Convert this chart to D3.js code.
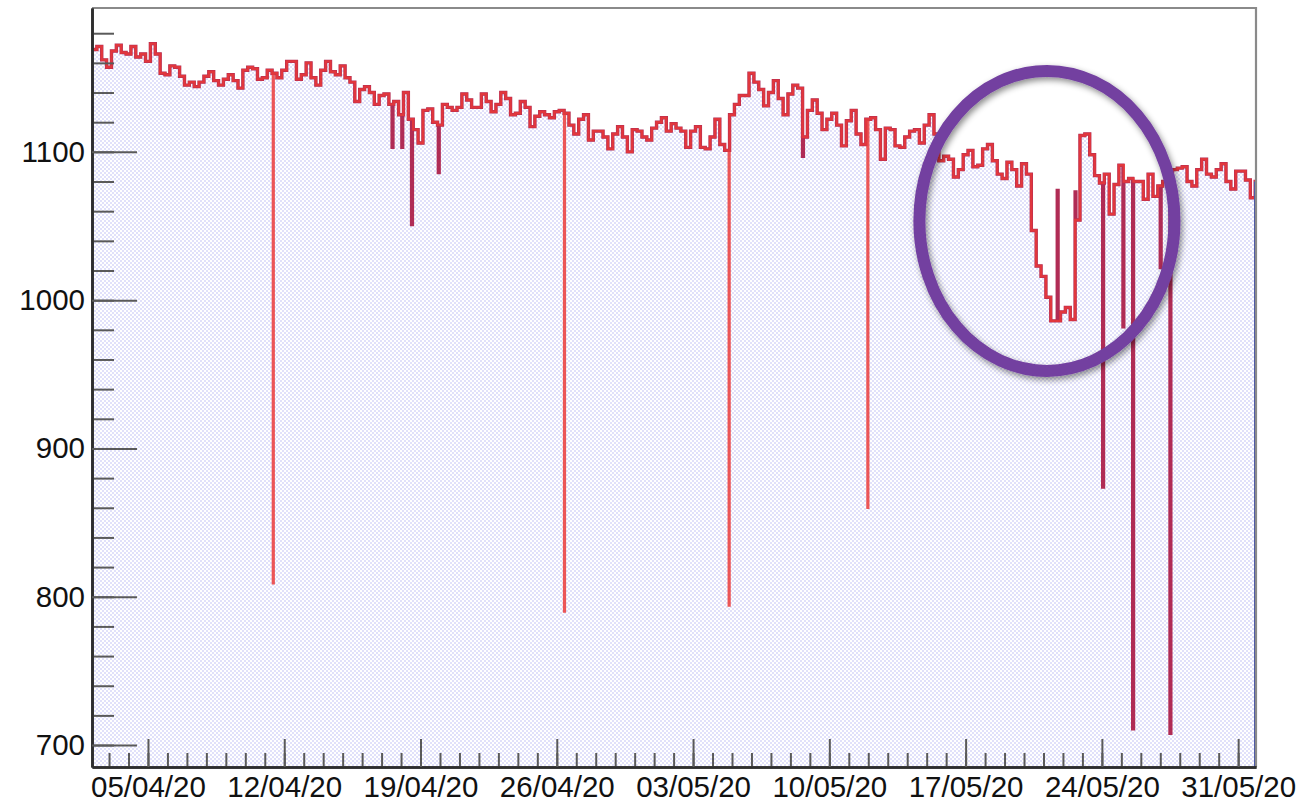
<!DOCTYPE html>
<html><head><meta charset="utf-8">
<script src="https://cdn.jsdelivr.net/npm/d3@7"></script>
<style>
body{margin:0;background:#fff}
svg{display:block}
text{font-family:"Liberation Sans",Arial,Helvetica,sans-serif}
</style>
</head><body>
<svg id="chart" width="1297" height="804"></svg>
<script>
// ---------------- DATA ----------------
const startTime = "2020-04-02T03:00";
const endTime = "2020-05-31T22:00";
const binHours = 6;
const yDomain = [685.2, 1197];

// 6-hour bins (4 per day)
const values = [
1169,1171,1162,1157, 1168,1172,1167,1166, 1171,1164,1166,1161, 1173,1166,1153,1152,
1158,1157,1151,1145, 1147,1144,1147,1151, 1154,1148,1145,1149, 1152,1148,1143,1155,
1157,1156,1149,1150, 1155,1153,1150,1155, 1161,1161,1149,1152, 1160,1150,1145,1155,
1161,1154,1152,1158, 1150,1147,1134,1142, 1144,1140,1132,1138, 1139,1132,1134,1125,
1140,1122,1115,1106, 1128,1129,1120,1118, 1132,1130,1128,1130, 1139,1135,1130,1130,
1139,1134,1127,1132, 1140,1136,1125,1126, 1134,1130,1117,1124, 1127,1125,1123,1127,
1128,1126,1118,1112, 1122,1125,1108,1114, 1114,1110,1102,1112, 1117,1110,1100,1115,
1114,1110,1108,1116, 1120,1123,1114,1119, 1116,1114,1103,1114, 1117,1103,1102,1110,
1122,1105,1101,1125, 1132,1138,1138,1153, 1147,1142,1131,1140, 1148,1136,1125,1139,
1145,1143,1110,1128, 1135,1126,1115,1122, 1126,1118,1104,1121, 1128,1112,1105,1122,
1123,1115,1095,1116, 1115,1104,1103,1110, 1114,1115,1106,1118, 1125,1112,1094,1097,
1095,1083,1088,1098, 1101,1090,1091,1102, 1105,1094,1085,1082, 1093,1088,1077,1092,
1085,1047,1023,1016, 1002,986,986,992, 995,987,1054,1111, 1112,1098,1084,1079,
1085,1058,1078,1091, 1080,1082,1080,1080, 1068,1085,1070,1077, 1080,1080,1088,1089,
1090,1080,1077,1088, 1095,1085,1083,1088, 1092,1080,1075,1087, 1087,1081,1069,1080
];

// one-hour outliers (bright red series)
const redSpikeTimes  = ["2020-04-11T10:00","2020-04-26T09:00","2020-05-04T20:00","2020-05-11T23:00"];
const redSpikeValues = [809, 790, 794, 860];

// one-hour outliers (dark crimson series)
const darkSpikeTimes  = ["2020-04-17T13:00","2020-04-18T01:00","2020-04-18T13:00","2020-04-19T22:00",
                         "2020-05-08T15:00","2020-05-21T17:00","2020-05-22T15:00","2020-05-24T01:00",
                         "2020-05-25T02:00","2020-05-25T14:00","2020-05-27T00:00","2020-05-27T12:00"];
const darkSpikeValues = [1103, 1103, 1051, 1086, 1097, 1074, 1073, 874, 982, 711, 1022, 708];

const yMajorTicks = [700, 800, 900, 1000, 1100];
const yMinorTicks = [700,720,740,760,780,800,820,840,860,880,900,920,940,960,980,1000,
                     1020,1040,1060,1080,1100,1120,1140,1160,1180];
const xMajorTicks = ["2020-04-05","2020-04-12","2020-04-19","2020-04-26","2020-05-03",
                     "2020-05-10","2020-05-17","2020-05-24","2020-05-31"];
const xTickLabels = ["05/04/20","12/04/20","19/04/20","26/04/20","03/05/20",
                     "10/05/20","17/05/20","24/05/20","31/05/20"];

// highlight ellipse: time / value extent of its centre line
const highlightTimes = ["2020-05-14T15:00","2020-05-27T17:30"];
const highlightValues = [952.3, 1154.6];

// ---------------- CHART ----------------
const parse = d3.timeParse("%Y-%m-%dT%H:%M");
const parseDay = d3.timeParse("%Y-%m-%d");
const t0 = parse(startTime), tEnd = parse(endTime);

const L = 92, R = 1256, T = 8, B = 767;
const svg = d3.select("#chart");

const x = d3.scaleTime().domain([t0, tEnd]).range([L, R]);
const y = d3.scaleLinear().domain(yDomain).range([B, T]);

const defs = svg.append("defs");
const pat = defs.append("pattern").attr("id","dots").attr("patternUnits","userSpaceOnUse")
  .attr("width",4).attr("height",4);
pat.append("rect").attr("width",4).attr("height",4).attr("fill","#ffffff");
pat.append("rect").attr("x",0.4).attr("y",0.4).attr("width",1.2).attr("height",1.2).attr("fill","#adadf3");
pat.append("rect").attr("x",2.4).attr("y",2.4).attr("width",1.2).attr("height",1.2).attr("fill","#adadf3");

defs.append("clipPath").attr("id","plotclip").append("rect")
  .attr("x",L).attr("y",T).attr("width",R-L).attr("height",B-T);

const shadow = defs.append("filter").attr("id","shadow").attr("x","-20%").attr("y","-20%")
  .attr("width","140%").attr("height","140%");
shadow.append("feDropShadow").attr("dx",2).attr("dy",3).attr("stdDeviation",3)
  .attr("flood-color","#000").attr("flood-opacity",0.45);

const binMs = binHours*3600e3;
const valueAt = t => values[Math.max(0, Math.min(values.length-1, Math.floor((t - t0)/binMs)))];

function buildSeries(times, vals){
  const pts = values.map((v,i)=>({t:new Date(+t0 + i*binMs), v}));
  times.forEach((s,i)=>{
    const ts = parse(s);
    pts.push({t:ts, v:vals[i]});
    const te = d3.timeHour.offset(ts, 1);
    pts.push({t:te, v:valueAt(te)});
  });
  pts.sort((a,b)=>a.t-b.t);
  pts.push({t:tEnd, v:valueAt(tEnd)});
  return pts;
}

const darkSeries = buildSeries(darkSpikeTimes, darkSpikeValues);
const redSeries = buildSeries(redSpikeTimes, redSpikeValues);
const allSeries = buildSeries(darkSpikeTimes.concat(redSpikeTimes), darkSpikeValues.concat(redSpikeValues));

const plot = svg.append("g").attr("clip-path","url(#plotclip)");

const area = d3.area().curve(d3.curveStepAfter)
  .x(d=>x(d.t)).y0(B).y1(d=>y(d.v));
plot.append("path").datum(allSeries).attr("d",area).attr("fill","url(#dots)");

const line = d3.line().curve(d3.curveStepAfter).x(d=>x(d.t)).y(d=>y(d.v));
plot.append("path").datum(darkSeries).attr("d",line)
  .attr("fill","none").attr("stroke","#b02c55").attr("stroke-width",3.4).attr("stroke-linejoin","miter");
plot.append("path").datum(redSeries).attr("d",line)
  .attr("fill","none").attr("stroke","#ea3a3a").attr("stroke-width",2.4).attr("stroke-opacity",0.85);

// right edge of the filled histogram
plot.append("line").attr("x1",x(tEnd)-1).attr("x2",x(tEnd)-1)
  .attr("y1",y(valueAt(tEnd))).attr("y2",B).attr("stroke","#4a56a8").attr("stroke-width",2);

// frame (top/right)
svg.append("path").attr("d",`M${L},${T}H${R}V${B}`).attr("fill","none")
  .attr("stroke","#8a8a8a").attr("stroke-width",2.2);

// y axis
const yMinor = d3.axisLeft(y).tickValues(yMinorTicks).tickSizeInner(-22).tickSizeOuter(0).tickFormat("");
const yMajor = d3.axisLeft(y).tickValues(yMajorTicks).tickSizeInner(-45).tickSizeOuter(0).tickPadding(7).tickFormat(d3.format("d"));
const gy1 = svg.append("g").attr("transform",`translate(${L},0)`).call(yMinor);
const gy2 = svg.append("g").attr("transform",`translate(${L},0)`).call(yMajor);

// x axis
const xMinorTicks = d3.timeDay.range(d3.timeDay.ceil(t0), tEnd);
const xMinor = d3.axisBottom(x).tickValues(xMinorTicks).tickSizeInner(-14).tickSizeOuter(0).tickFormat("");
const xMajorDates = xMajorTicks.map(parseDay);
const xMajor = d3.axisBottom(x).tickValues(xMajorDates).tickSizeInner(-28).tickSizeOuter(0).tickPadding(9)
  .tickFormat((d,i)=>xTickLabels[i]);
const gx1 = svg.append("g").attr("transform",`translate(0,${B})`).call(xMinor);
const gx2 = svg.append("g").attr("transform",`translate(0,${B})`).call(xMajor);

[gy1,gy2,gx1,gx2].forEach(g=>{
  g.selectAll(".tick line").attr("stroke","#5a5a5a").attr("stroke-width",2);
  g.select(".domain").attr("stroke","#2e2e2e").attr("stroke-width",2.6);
  g.selectAll("text").attr("fill","#111").style("font-size","29.5px")
   .style("font-family",'"Liberation Sans",Arial,sans-serif');
});

// highlight ellipse
const hx = highlightTimes.map(parse).map(x), hy = highlightValues.map(y);
svg.append("ellipse")
  .attr("cx",(hx[0]+hx[1])/2).attr("cy",(hy[0]+hy[1])/2)
  .attr("rx",Math.abs(hx[1]-hx[0])/2).attr("ry",Math.abs(hy[1]-hy[0])/2)
  .attr("fill","none").attr("stroke","#7340a0").attr("stroke-width",12)
  .attr("filter","url(#shadow)");
</script>
</body></html>
